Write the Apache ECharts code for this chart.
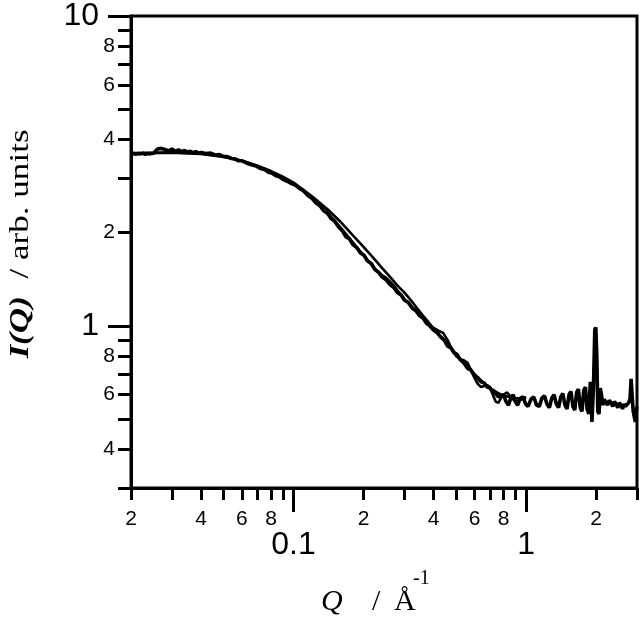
<!DOCTYPE html>
<html><head><meta charset="utf-8">
<script src="https://cdn.jsdelivr.net/npm/echarts@6/dist/echarts.min.js"></script>
<style>html,body{margin:0;padding:0;background:#fff}#c{width:640px;height:618px}</style>
</head><body><div id="c"></div>
<script>
// Measured scattering data I(Q)
const qData = [0.0200,0.0205,0.0210,0.0215,0.0220,0.0225,0.0230,0.0235,0.0240,0.0245,0.0250,0.0255,0.0260,0.0265,0.0270,0.0275,0.0280,0.0290,0.0300,0.0310,0.0320,0.0330,0.0340,0.0350,0.0360,0.0370,0.0380,0.0390,0.0400,0.0420,0.0440,0.0460,0.0480,0.0500,0.0520,0.0540,0.0560,0.0580,0.0600,0.0630,0.0660,0.0690,0.0720,0.0750,0.0780,0.0810,0.0840,0.0870,0.0900,0.0940,0.0980,0.1020,0.1060,0.1100,0.1150,0.1200,0.1250,0.1300,0.1350,0.1400,0.1450,0.1500,0.1560,0.1620,0.1680,0.1740,0.1800,0.1870,0.1940,0.2010,0.2080,0.2160,0.2240,0.2320,0.2400,0.2500,0.2600,0.2700,0.2800,0.2900,0.3000,0.3120,0.3240,0.3360,0.3480,0.3600,0.3730,0.3860,0.4000,0.4150,0.4300,0.4450,0.4600,0.4750,0.4900,0.5050,0.5200,0.5400,0.5600,0.5800,0.6000,0.6200,0.6400,0.6600,0.6800,0.7000,0.7200,0.7400,0.7600,0.7800,0.8000,0.8200,0.8400,0.8600,0.8800,0.9000,0.9200,0.9450,0.9700,0.9950,1.0200,1.0500,1.0800,1.1100,1.1400,1.1700,1.2000,1.2300,1.2600,1.2900,1.3200,1.3500,1.3800,1.4100,1.4400,1.4700,1.5000,1.5300,1.5600,1.5900,1.6200,1.6500,1.6800,1.7100,1.7400,1.7700,1.8000,1.8300,1.8600,1.8900,1.9200,1.9500,1.9750,1.9950,2.0150,2.0350,2.0600,2.0850,2.1100,2.1400,2.1700,2.2000,2.2400,2.2800,2.3200,2.3600,2.4000,2.4400,2.4800,2.5200,2.5600,2.6000,2.6400,2.6800,2.7200,2.7600,2.8000,2.8300,2.8600,2.8900,2.9200,2.9500,2.9800,3.0000];
const iData = [3.59,3.60,3.58,3.60,3.59,3.61,3.58,3.60,3.59,3.60,3.61,3.66,3.72,3.68,3.74,3.69,3.71,3.67,3.72,3.66,3.70,3.65,3.68,3.64,3.66,3.62,3.65,3.61,3.63,3.60,3.61,3.56,3.57,3.52,3.52,3.47,3.46,3.41,3.41,3.35,3.31,3.28,3.22,3.20,3.13,3.11,3.05,3.03,2.97,2.93,2.88,2.85,2.78,2.74,2.64,2.58,2.49,2.44,2.35,2.31,2.22,2.18,2.09,2.03,1.94,1.91,1.83,1.79,1.72,1.69,1.62,1.59,1.52,1.49,1.44,1.41,1.36,1.33,1.28,1.26,1.21,1.19,1.14,1.12,1.08,1.06,1.02,1.00,0.97,0.95,0.92,0.90,0.86,0.85,0.82,0.81,0.78,0.76,0.73,0.72,0.69,0.68,0.66,0.655,0.635,0.63,0.61,0.605,0.59,0.595,0.60,0.57,0.555,0.585,0.60,0.57,0.555,0.585,0.59,0.56,0.55,0.58,0.59,0.555,0.55,0.585,0.595,0.56,0.545,0.585,0.60,0.56,0.545,0.59,0.605,0.555,0.54,0.60,0.615,0.55,0.535,0.61,0.625,0.545,0.53,0.62,0.635,0.54,0.52,0.66,0.49,0.64,0.97,0.99,0.80,0.53,0.52,0.63,0.60,0.555,0.58,0.575,0.555,0.575,0.565,0.55,0.57,0.56,0.545,0.565,0.555,0.54,0.56,0.55,0.545,0.565,0.58,0.675,0.59,0.53,0.51,0.49,0.53,0.55];

// Smooth model fit (upper curve)
const qFitA = [0.02,0.03,0.04,0.05,0.06,0.07,0.08,0.09,0.10,0.12,0.14,0.16,0.18,0.20,0.22,0.24,0.26,0.28,0.30,0.32,0.34,0.36,0.38,0.40,0.45,0.50,0.55,0.60,0.65,0.70,0.75,0.80,0.90,1.00];
const iFitA = [3.61,3.62,3.59,3.51,3.41,3.29,3.16,3.03,2.90,2.62,2.38,2.16,1.96,1.80,1.66,1.54,1.44,1.35,1.28,1.21,1.14,1.08,1.03,0.98,0.89,0.81,0.75,0.70,0.66,0.63,0.61,0.595,0.585,0.58];

// Oscillating model fit
const qFitB = [0.02,0.03,0.04,0.05,0.06,0.07,0.08,0.09,0.10,0.11,0.12,0.13,0.14,0.15,0.16,0.17,0.18,0.19,0.20,0.21,0.22,0.23,0.24,0.25,0.26,0.27,0.28,0.29,0.30,0.32,0.34,0.36,0.38,0.40,0.42,0.44,0.46,0.48,0.50,0.52,0.54,0.56,0.58,0.60,0.62,0.64,0.66,0.68,0.70,0.72,0.74,0.76,0.78,0.80,0.83,0.86,0.90,0.94,1.00];
const iFitB = [3.60,3.63,3.60,3.52,3.41,3.28,3.13,2.99,2.86,2.72,2.58,2.44,2.31,2.19,2.07,1.96,1.86,1.77,1.69,1.62,1.55,1.50,1.46,1.43,1.39,1.35,1.30,1.26,1.22,1.16,1.11,1.06,1.02,0.985,0.965,0.95,0.90,0.84,0.80,0.78,0.775,0.76,0.72,0.68,0.65,0.635,0.64,0.645,0.635,0.60,0.57,0.565,0.585,0.60,0.61,0.59,0.57,0.575,0.59];

// Axis ticks and labels
const xMinorTicks = [0.02,0.03,0.04,0.05,0.06,0.07,0.08,0.09,0.2,0.3,0.4,0.5,0.6,0.7,0.8,0.9,2,3];
const xMinorLabelVals = [0.02,0.04,0.06,0.08,0.2,0.4,0.6,0.8,2];
const xMinorLabelText = ['2','4','6','8','2','4','6','8','2'];
const xMajorTicks = [0.1,1];
const xMajorLabelText = ['0.1','1'];
const yMinorTicks = [0.3,0.4,0.5,0.6,0.7,0.8,0.9,2,3,4,5,6,7,8,9];
const yMinorLabelVals = [0.4,0.6,0.8,2,4,6,8];
const yMinorLabelText = ['4','6','8','2','4','6','8'];
const yMajorTicks = [1,10];
const yMajorLabelText = ['1','10'];

function pairs(xs, ys) { return xs.map((x, i) => [x, ys[i]]); }
function lookup(vals, texts) {
  return function (v) {
    for (let i = 0; i < vals.length; i++) {
      if (Math.abs(Math.log10(v) - Math.log10(vals[i])) < 1e-6) return texts[i];
    }
    return '';
  };
}
const SANS = 'Liberation Sans';
const SERIF = 'Liberation Serif';
const black = '#000';

function xAxisDef(ticks, labelVals, labelText, len, fs, margin, showLine) {
  return {
    type: 'log', logBase: 10, min: 0.02, max: 3, position: 'bottom', gridIndex: 0,
    axisLine: { show: showLine, lineStyle: { color: black, width: 3 } },
    axisTick: { show: true, inside: false, length: len, customValues: ticks, lineStyle: { color: black, width: 3 } },
    axisLabel: { show: true, customValues: labelVals, formatter: lookup(labelVals, labelText), fontSize: fs, fontFamily: SANS, color: black, margin: margin },
    splitLine: { show: false }, minorTick: { show: false }
  };
}
function yAxisDef(ticks, labelVals, labelText, len, fs, margin, showLine) {
  return {
    type: 'log', logBase: 10, min: 0.3, max: 10, position: 'left', gridIndex: 0,
    axisLine: { show: showLine, lineStyle: { color: black, width: 3 } },
    axisTick: { show: true, inside: false, length: len, customValues: ticks, lineStyle: { color: black, width: 3 } },
    axisLabel: { show: true, customValues: labelVals, formatter: lookup(labelVals, labelText), fontSize: fs, fontFamily: SANS, color: black, margin: margin },
    splitLine: { show: false }, minorTick: { show: false }
  };
}
function lineSeries(xs, ys, w) {
  return { type: 'line', xAxisIndex: 0, yAxisIndex: 0, data: pairs(xs, ys), symbol: 'none', showSymbol: false,
    lineStyle: { color: black, width: w }, clip: true, animation: false, silent: true };
}

const chart = echarts.init(document.getElementById('c'), null, { renderer: 'canvas' });
chart.setOption({
  animation: false,
  backgroundColor: '#fff',
  grid: { left: 131, top: 13, right: 3, bottom: 130, show: true, borderColor: black, borderWidth: 3, backgroundColor: 'transparent' },
  xAxis: [
    xAxisDef(xMinorTicks, xMinorLabelVals, xMinorLabelText, 12, 21, 21, true),
    xAxisDef(xMajorTicks, xMajorTicks, xMajorLabelText, 24, 32, 41, false)
  ],
  yAxis: [
    yAxisDef(yMinorTicks, yMinorLabelVals, yMinorLabelText, 13, 21, 16, true),
    yAxisDef(yMajorTicks, yMajorTicks, yMajorLabelText, 23, 32, 32, false)
  ],
  series: [
    lineSeries(qData, iData, 3.6),
    lineSeries(qFitA, iFitA, 2.6),
    lineSeries(qFitB, iFitB, 2.6)
  ],
  graphic: [
    { type: 'text', x: 21, y: 244, rotation: Math.PI / 2, scaleX: 1.3,
      style: { text: '{a|I(Q)}{b|  / arb. units}', align: 'center', verticalAlign: 'middle', fill: black, fontSize: 27, fontFamily: SERIF,
        rich: { a: { fontStyle: 'italic', fontWeight: 'bold', fontSize: 27, fontFamily: SERIF, fill: black },
                b: { fontSize: 27, fontFamily: SERIF, fill: black } } } },
    { type: 'text', x: 321, y: 602, style: { text: 'Q', fontStyle: 'italic', fontSize: 30, fontFamily: SERIF, fill: black, align: 'left', verticalAlign: 'middle' } },
    { type: 'text', x: 372, y: 602, style: { text: '/', fontSize: 30, fontFamily: SERIF, fill: black, align: 'left', verticalAlign: 'middle' } },
    { type: 'text', x: 394, y: 602, style: { text: 'Å', fontSize: 30, fontFamily: SERIF, fill: black, align: 'left', verticalAlign: 'middle' } },
    { type: 'text', x: 413, y: 579, style: { text: '-1', fontSize: 20, fontFamily: SERIF, fill: black, align: 'left', verticalAlign: 'middle' } }
  ]
});
</script>
</body></html>
